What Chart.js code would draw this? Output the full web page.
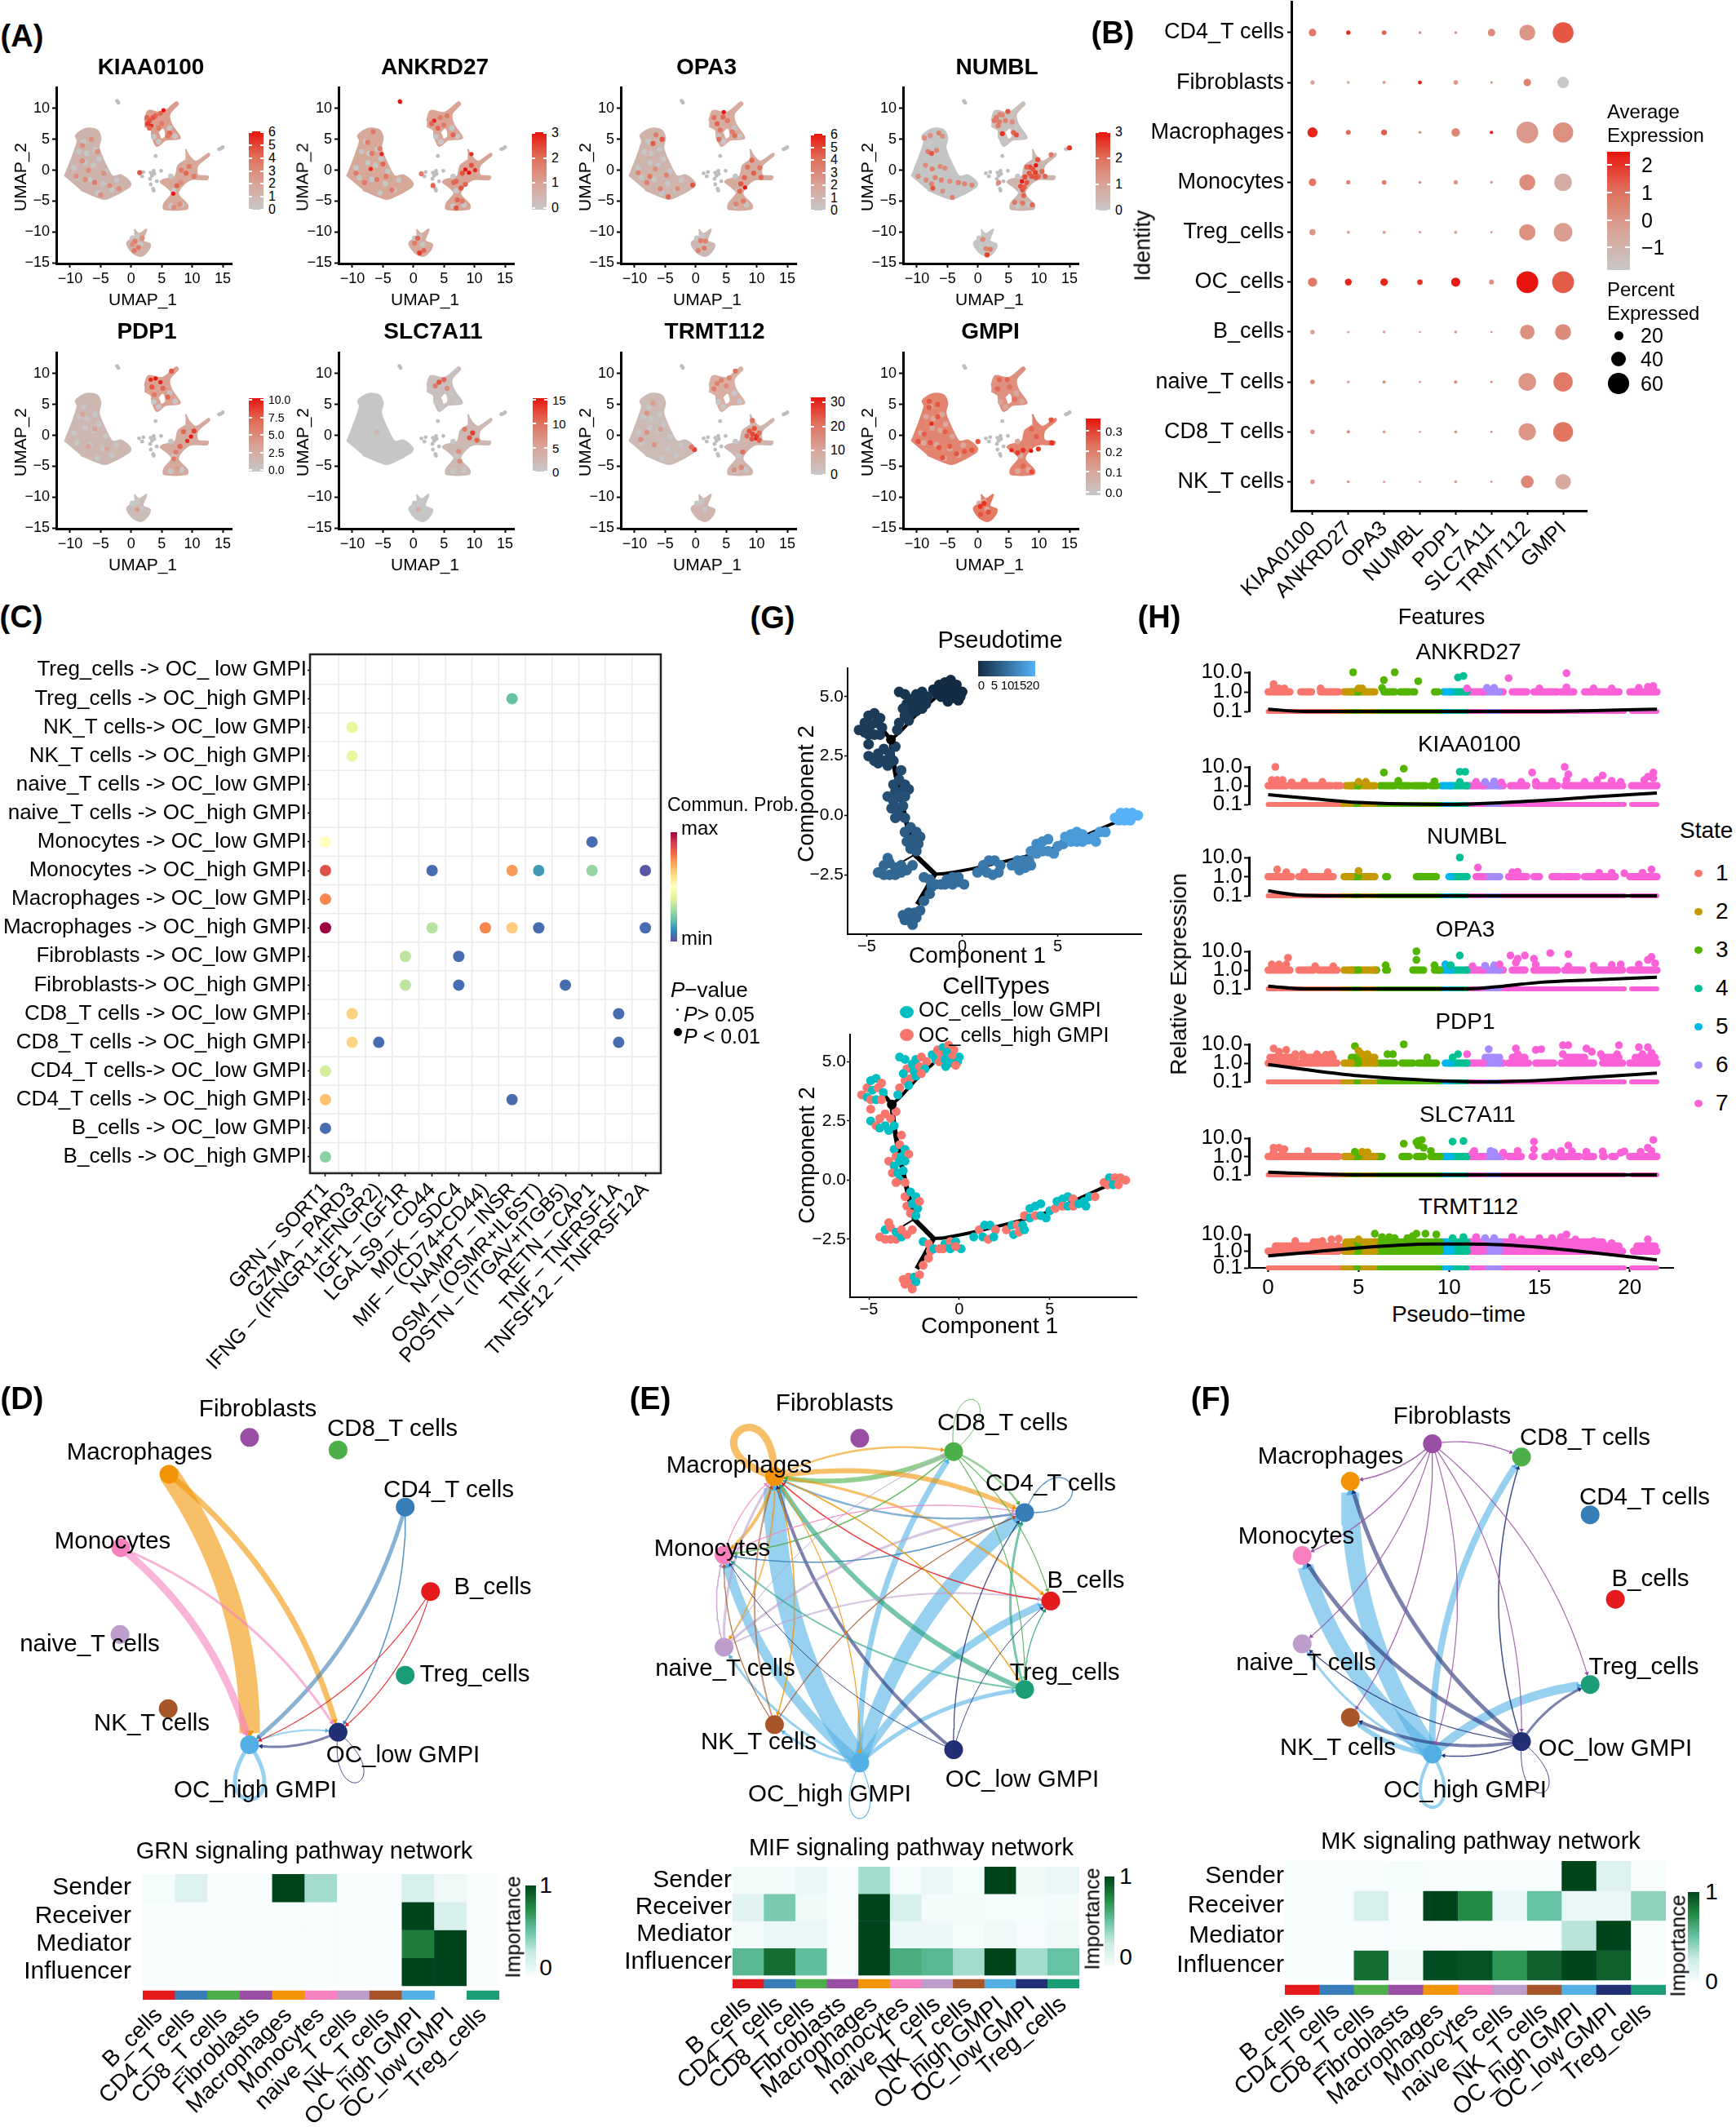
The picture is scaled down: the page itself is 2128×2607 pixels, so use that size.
<!DOCTYPE html>
<html>
<head>
<meta charset="utf-8">
<script src="https://cdn.jsdelivr.net/npm/chart.js@4/dist/chart.umd.js"></script>
<style>
html,body{margin:0;padding:0;background:#fff}
#page{position:relative;width:2128px;height:2607px;overflow:hidden;background:#fff;font-family:"Liberation Sans",Arial,sans-serif;color:#000}
#page canvas{position:absolute}
.t{position:absolute;white-space:pre;line-height:1}
</style>
</head>
<body>
<div id="page"></div>
<script>
// ---------- data : panel A (UMAP) ----------
const umapXTicks=[-10,-5,0,5,10,15];
const umapYTicks=[-15,-10,-5,0,5,10];
const blobBig=[[-10.9,-1],[-10,1.2],[-8.8,4.7],[-9.1,5.6],[-7.4,6.7],[-5.6,6.5],[-5,5.2],[-5.3,3.6],[-3.9,.3],[-3,-1],[-1.6,-.8],[-.1,-2.1],[-.4,-2.8],[-3.6,-4.5],[-4.8,-4.6],[-8.3,-3.2]];
const blobTop=[[2.2,8],[2.8,9.6],[5.1,9.3],[7.4,11],[7.7,10.7],[6.3,9.1],[6.6,7.4],[8,5.2],[5.7,4.9],[4.2,3.9],[3.4,5.6],[3.3,6.5],[2.2,7.1]];
const blobRight=[[8.9,3.4],[9.5,2.3],[10.6,1.4],[12.7,2.7],[12.8,2.4],[10.9,.75],[10.9,-.8],[12.6,-1],[12.4,-1.5],[9.8,-1.5],[8.3,-2.6],[7.7,-3.9],[9.2,-5.6],[9.1,-6.3],[5.4,-6.3],[5.4,-5.4],[6.7,-3.7],[5.7,-2.6],[4.8,-1.9],[5.4,-1.5],[7.2,-1],[7.7,.75],[8.9,1.6]];
const blobLow=[[.5,-9.6],[1.3,-10.3],[2.5,-9.6],[1.9,-11.4],[3.1,-12],[2.5,-13.3],[1.5,-13.9],[.2,-13.3],[-.7,-11.8],[.5,-10.9]];
const blobHole=[[4.6,6],[5.2,6.6],[5.4,5.5],[4.9,5.2]];
const strayCells=[[-2.3,11.2],[-2.1,10.9],[4,2.3],[1.3,-.5],[1.8,-1],[2,-.3],[3.2,-.4],[3.7,-.1],[3.8,-.6],[4.9,-.1],[3.1,-1.4],[3.2,-2.3],[3.6,-3],[3.7,-3.3],[4.2,-1.8],[3.4,-.9],[14.4,3.4],[15,3.7],[14.7,3.5]];
const greyFlecks=[[-8.5,3],[-7.5,1.2],[-9.4,.4],[-6.2,.8],[-5.3,1.8],[-6.8,-1.5],[-4.6,-2.2],[-3.2,-3.2],[-7.8,4.6],[-5.9,3.4],[-4.2,-.2],[-2.4,-1.6],[-8.9,-1.2],[-5.5,-3.7],[-7.3,2.7],[4.5,4.6],[3.7,5.4],[6.3,6.8],[7.2,5.5],[6.5,-1],[7,-3.3],[6.5,-5.8],[8.3,-5.6],[1,-10.7],[1.5,-12],[.2,-11]];
const hotKIAA0100=[[3,8,.7],[2.7,7.5,.8],[3.3,7.2,.9],[4,8.8,.6],[4.8,9.2,.6],[5.3,9.7,1],[3.6,8.5,.7],[5,7.5,.5],[4.5,6.8,.5],[6.3,6,.6],[6,5.5,.5],[3,6.8,.6],[2.6,8.5,.6],[8.2,0,.5],[9.5,.6,.5],[9,-.5,.6],[10.3,-1,.5],[7.5,-2.5,.6],[6.9,-3.8,1],[8.2,-2,.4],[1.4,-.4,.7],[7,-6,.4],[8,-5.5,.4],[-8,4,.4],[-6.5,5,.4],[-5.5,3,.4],[-7,0,.4],[-9,-1,.4],[-6,-2,.5],[-4.5,-.5,.4],[-5,-4,.4],[-2,-3,.4],[-8,1.5,.4],[-3.5,-2.5,.4],[-7.5,-1.5,.4],[.6,-11.5,.5],[1.2,-12.5,.5],[.2,-12,.4],[1.8,-11,.4],[.5,-13,.5]];
const hotANKRD27=[[-2.2,11.1,1],[3.4,8,.9],[3,7.5,.6],[4.4,8.5,.5],[5.5,8.8,.5],[4,6.8,.6],[6.5,5.7,.6],[5,7.3,.5],[-7,.2,.9],[-5.2,2.6,.9],[-7.5,4.5,.5],[-6.6,6.2,.5],[-9.4,-.5,.5],[-5,1,.6],[-6,-1.5,.5],[-3.5,-3.2,.5],[-4.5,-1,.5],[-8,-2,.5],[-5.5,3.5,.5],[-6.8,2.7,.5],[9.5,2.6,.9],[8.5,.1,1],[9.1,-.4,1],[10.1,0,.9],[9.5,.8,.7],[8,-.5,.7],[7,-1.8,.6],[6.6,-2,.6],[8.5,-2.3,.6],[7.8,-2.9,.7],[7.2,-4.8,.6],[7,-6.1,.7],[8,-5,.5],[1.3,-.6,.5],[3.2,-2.5,.6],[.7,-11,.6],[1,-13.4,.8],[1.7,-13,.6],[.2,-11.8,.5]];
const hotOPA3=[[4.6,9.4,1],[8.1,-2.8,1],[3,8.5,.55],[3.5,7.5,.6],[4.5,8.6,.6],[5.2,8,.5],[4,6.5,.5],[6,6.2,.5],[3.8,5,.55],[6.4,5.6,.55],[8.5,.5,.55],[9.5,-.5,.65],[10.5,.4,.55],[9.2,1.6,.6],[8,-1.2,.6],[10.7,-1.2,.6],[7.4,-2.2,.7],[7.2,-3.4,.6],[7.8,-5,.5],[6.6,-5.5,.45],[-6.5,5.7,.5],[-7,4.3,.65],[-5.5,5,.7],[-9.4,-.4,.45],[-6.6,.2,.4],[-4.8,-.8,.45],[-5.8,-3,.45],[-8,-2,.45],[-7.5,-1,.5],[-4.5,-4.3,.6],[-3,-3,.4],[-.5,-2.4,.7],[.8,-11.4,.5],[1.4,-12.6,.5],[.4,-13,.45],[1.6,-11.5,.45]];
const hotNUMBL=[[3,8.5,.5],[3.5,7.8,.5],[4,8.9,.45],[2.7,8,.5],[3.6,9,.45],[3.3,7.2,.5],[4.5,8,.45],[4.9,9.5,.7],[4,5.9,.85],[5.8,6.1,.6],[6.3,5.7,.7],[5.6,7.8,.4],[9.5,.8,1],[7.2,-1.8,1],[8.5,.5,.75],[9.4,-.4,.8],[8.8,-1,.7],[9.8,1.7,.7],[10.5,-.2,.6],[7.7,-1.1,.75],[7,-2.6,.75],[8,-2,.7],[7.3,-3.2,.7],[9,.2,.7],[8,.5,.6],[9.9,-1,.6],[11,-1,.6],[8.4,-.5,.7],[7.6,-2.7,.65],[9.5,-1.2,.7],[12,2.5,.5],[6,-5.2,.5],[7.3,-5.3,.5],[8.9,-5.6,.6],[7.5,-4.1,.6],[15,3.6,.85],[-8.8,5.2,.4],[-7.8,5.6,.4],[-6.4,6,.45],[-5.8,5.5,.4],[-8.2,3,.5],[-7.6,2.7,.7],[-6.8,3.2,.45],[-8.6,.8,.4],[-7.5,.2,.45],[-6.2,.6,.4],[-5.4,.3,.4],[-9.8,-1,.4],[-8.5,-1.6,.4],[-7,-1.2,.45],[-6,-1.6,.45],[-4.6,-1.8,.4],[-3.2,-2,.45],[-2.2,-2.2,.45],[-1,-2.4,.45],[-7.4,-2.9,.7],[-7.6,-2.2,.45],[-5.8,-3.4,.4],[-4.2,-4.4,.45],[3.4,-2,.4],[1.3,-12.7,.45],[2,-12.8,.5],[1.5,-13.7,.8],[.8,-11.2,.4]];
const hotPDP1=[[3.2,9,.9],[4,9.2,1],[4.8,8.6,.9],[3.4,7.8,.7],[5.2,7.6,.6],[3.8,6.6,.5],[6,6.2,.6],[6.6,10.4,.7],[8.6,.6,.6],[9.8,-.2,1],[9.2,-.9,.9],[10.3,.7,.8],[8,-1.8,.6],[7.3,-2.7,.5],[7,-3.8,.5],[7.6,-5.4,.3],[-8,3.4,.25],[-6,1,.25],[-4,-2.2,.25],[-7,-1.8,.25],[1,-12,.3]];
const hotSLC7A11=[[4.2,8.6,.7],[5,9,.6],[5.5,7.6,.4],[3.6,8,.5],[9.7,.4,.8],[9.2,-.4,.7],[10.4,-.8,.6],[8.4,1,.5],[7.4,-2.6,.4],[7.6,-4.2,.4],[-6,.5,.15],[.8,-12,.2]];
const hotTRMT112=[[9.9,-.5,1],[10,-.1,.85],[9.3,.2,.75],[8.8,.7,.7],[9.6,1.1,.7],[9.2,-.6,.7],[8.4,-.1,.6],[10.4,-.8,.65],[9.3,2.4,.55],[10.4,.4,.55],[-.2,-2.3,.8],[-.7,-1.9,.55],[3.5,8.4,.45],[4.2,8.9,.45],[5,8,.4],[3,7.5,.45],[6.5,10.4,.55],[5.5,9.3,.45],[7.7,-2.7,.55],[6.3,-5.6,.4],[7.5,-5.2,.4],[-8,3.6,.35],[-7,5.2,.3],[-9,-.7,.4],[-8,.5,.35],[-6.8,-1.5,.35],[-5.8,1,.3]];
const hotGMPI=[[8.7,-2.5,1],[5.5,-2.4,.95],[-7.6,1.9,.9],[0,-1,.7],[7.4,-2.4,.85],[6.5,-2.8,.8],[9.9,-2.2,.85],[3.5,9,.6],[4.8,9,.6],[5.2,7.8,.55],[3.2,7.5,.6],[6,5.8,.55],[8.8,1,.6],[9.6,-.2,.65],[7.4,-5,.6],[8.8,-5.9,.75],[-8,5.5,.7],[-6.6,5,.7],[-8,4.5,.65],[-6.6,3,.7],[-8.8,.2,.65],[-9.8,-1,.7],[-5.4,.6,.65],[-6.4,-2,.7],[-7.8,-1.2,.7],[-3.5,-3,.7],[-2.2,-2.6,.7],[-4.6,-1.8,.65],[-5.8,-3.6,.7],[-1,-2.4,.7],[1,-11,.85],[1.7,-12.4,.75],[.4,-11.5,.85],[.4,-12.8,.7],[12.1,-1.2,.85],[12,2.5,.7]];
const legendKIAA0100=['6','5','4','3','2','1','0'];
const legendANKRD27=['3','2','1','0'];
const legendOPA3=['6','5','4','3','2','1','0'];
const legendNUMBL=['3','2','1','0'];
const legendPDP1=['10.0','7.5','5.0','2.5','0.0'];
const legendSLC7A11=['15','10','5','0'];
const legendTRMT112=['30','20','10','0'];
const legendGMPI=['0.3','0.2','0.1','0.0'];

// ---------- data : panel B ----------
const dotGenes=['KIAA0100','ANKRD27','OPA3','NUMBL','PDP1','SLC7A11','TRMT112','GMPI'];
const dotIdents=['CD4_T cells','Fibroblasts','Macrophages','Monocytes','Treg_cells','OC_cells','B_cells','naive_T cells','CD8_T cells','NK_T cells'];
const pctExpressed=[[18,8,9,4,4,18,44,59],[8,4,5,7,9,3,18,30],[26,10,13,4,21,5,62,57],[18,8,9,4,8,3,44,49],[14,4,5,3,5,1.5,45,52],[23,16,18,12,23,10,62,62],[9,3,4,1.5,4,1.5,40,44],[9,3,5,1.5,5,1.5,49,54],[9,5,4,1.5,4,1.5,48,56],[9,4,3,1.5,4,1.5,34,43]];
const avgExpression=[[.4,2,.9,0,-.2,0,-.2,1.1],[-.5,-.5,-.4,2.2,-.2,0,.2,-1.5],[2,.7,1,-.1,.1,2.3,-.3,-.1],[.5,.1,.4,-.1,-.2,0,0,-.8],[-.3,-.4,-.5,-.4,-.5,.1,-.1,-.4],[.4,2,2,1.8,2.2,-.1,2.3,1],[-.5,-.5,-.5,-.4,-.2,0,-.1,0],[.1,-.3,-.1,-.2,0,.4,-.2,.4],[-.2,0,-.3,-.3,-.1,.1,-.2,.5],[-.3,-.2,-.5,-.4,-.3,.2,.1,-.7]];

// ---------- data : panel C ----------
const pairRows=['Treg_cells -> OC_ low GMPI','Treg_cells -> OC_high GMPI','NK_T cells-> OC_low GMPI','NK_T cells -> OC_high GMPI','naive_T cells -> OC_low GMPI','naive_T cells -> OC_high GMPI','Monocytes -> OC_low GMPI','Monocytes -> OC_high GMPI','Macrophages -> OC_low GMPI','Macrophages -> OC_high GMPI','Fibroblasts -> OC_low GMPI','Fibroblasts-> OC_high GMPI','CD8_T cells -> OC_low GMPI','CD8_T cells -> OC_high GMPI','CD4_T cells-> OC_low GMPI','CD4_T cells -> OC_high GMPI','B_cells -> OC_low GMPI','B_cells -> OC_high GMPI'];
const lrPairs=['GRN \u2013 SORT1','GZMA \u2013 PARD3','IFNG \u2013 (IFNGR1+IFNGR2)','IGF1 \u2013 IGF1R','LGALS9 \u2013 CD44','MDK \u2013 SDC4','MIF \u2013 (CD74+CD44)','NAMPT \u2013 INSR','OSM \u2013 (OSMR+IL6ST)','POSTN \u2013 (ITGAV+ITGB5)','RETN \u2013 CAP1','TNF \u2013 TNFRSF1A','TNFSF12 \u2013 TNFRSF12A'];
// row, column, communication probability (0 min .. 1 max)
const commProb=[[1,7,.2],[2,1,.42],[3,1,.42],[6,0,.5],[6,10,.05],[7,0,.86],[7,4,.05],[7,7,.73],[7,8,.13],[7,10,.27],[7,12,.01],[8,0,.76],[9,0,1],[9,4,.32],[9,6,.76],[9,7,.64],[9,8,.05],[9,12,.05],[10,3,.33],[10,5,.05],[11,3,.33],[11,5,.05],[11,9,.05],[12,1,.63],[12,11,.05],[13,1,.62],[13,2,.05],[13,11,.05],[14,0,.37],[15,0,.66],[15,7,.05],[16,0,.05],[17,0,.25]];
const spectralStops=['#5E4FA2','#3288BD','#66C2A5','#ABDDA4','#E6F598','#FFFFBF','#FEE08B','#FDAE61','#F46D43','#D53E4F','#9E0142'];

// ---------- data : panels D E F ----------
const cellNames=['B_cells','CD4_T cells','CD8_T cells','Fibroblasts','Macrophages','Monocytes','naive_T cells','NK_T cells','OC_high GMPI','OC_low GMPI','Treg_cells'];
const cellColors=['#E41A1C','#377EB8','#4DAF4A','#984EA3','#F29403','#F781BF','#BC9DCC','#A65628','#54B0E4','#222F75','#1B9E77'];
const B=0,CD4=1,CD8=2,FIB=3,MAC=4,MON=5,NAI=6,NK=7,HI=8,LO=9,TRE=10;
const nodeXD=[533,501,416,304,202,141,140,201,304,416,501];
const nodeYD=[1950,1842,1769,1753,1800,1894,2005,2100,2146,2130,2057];
const labelXD=[604,550,481,316,171,138,110,186,313,494,582];
const labelYD=[1944,1825,1750,1726,1779,1888,2014,2111,2193,2150,2051];
const edgesD=[[MAC,HI,25],[MAC,LO,7],[MON,HI,9],[MON,LO,3],[CD4,HI,5],[CD4,LO,1.5],[B,HI,1.2],[B,LO,1.2],[LO,HI,3],[HI,LO,2]];
const loopsD=[[HI,304,2216,18,5],[LO,441,2194,14,1]];
const nodeXE=[1295,1262,1172,1053,945,881,881,945,1053,1172,1262];
const nodeYE=[1962,1849,1771,1754,1803,1903,2021,2120,2169,2152,2075];
const labelXE=[1331,1288,1229,1023,906,873,889,930,1017,1253,1305];
const labelYE=[1936,1817,1743,1719,1795,1897,2044,2134,2198,2180,2049];
const edgesE=[[HI,MAC,26],[HI,MON,12],[HI,CD4,18],[HI,CD8,7],[HI,B,9],[HI,TRE,5],[HI,NAI,3],[HI,NK,3],[MAC,CD8,2.5],[MAC,CD4,6],[MAC,B,3],[MAC,TRE,1.5],[MAC,MON,4],[MAC,NAI,2],[MAC,NK,1.5],[MAC,HI,1.2],[CD8,MAC,6],[CD8,CD4,2.5],[CD8,B,1.2],[CD8,TRE,1.2],[CD8,MON,1.5],[CD4,MAC,2.5],[CD4,MON,1.5],[TRE,MAC,6],[TRE,MON,2],[TRE,CD4,3],[TRE,B,1.2],[MON,MAC,1.2],[MON,CD4,1.2],[NAI,CD4,3],[NAI,B,2],[NAI,MAC,3],[NAI,MON,1.5],[NAI,CD8,1],[NK,CD4,1.2],[NK,MAC,2],[NK,MON,1.2],[LO,MAC,4],[LO,MON,1],[LO,CD4,1.3],[LO,B,1],[B,MAC,1.5]];
const loopsE=[[MAC,901,1744,20,9],[CD8,1198,1705,14,1],[CD4,1320,1812,18,1.3],[HI,1053,2240,13,1.2]];
const nodeXF=[1987,1955,1868,1755,1651,1590,1590,1651,1755,1868,1955];
const nodeYF=[1960,1852,1778,1761,1809,1904,2017,2111,2158,2142,2069];
const labelXF=[2023,2016,1943,1780,1631,1589,1601,1640,1796,1980,2015];
const labelYF=[1934,1834,1761,1735,1784,1882,2037,2141,2193,2142,2042];
const edgesF=[[HI,MAC,22],[HI,MON,20],[HI,CD8,8],[HI,TRE,11],[HI,NK,6],[HI,NAI,3],[LO,MAC,5],[LO,MON,5],[LO,CD8,1.5],[LO,NAI,1.2],[LO,NK,4],[LO,HI,1.5],[LO,TRE,3],[FIB,MAC,1.5],[FIB,MON,1.3],[FIB,NAI,1.2],[FIB,NK,1.3],[FIB,HI,1.2],[FIB,LO,1.2],[FIB,TRE,1.2],[FIB,CD8,1.3]];
const loopsF=[[HI,1755,2226,15,4],[LO,1896,2207,14,1]];

// heatmaps below the networks
const heatRoles=['Sender','Receiver','Mediator','Influencer'];
const grnImportance=[[.02,.15,0,0,1,.35,0,0,.18,.06,0],[0,0,0,0,0,0,0,0,1,.18,0],[0,0,0,0,0,0,0,0,.8,1,0],[0,0,0,0,0,0,0,0,1,1,0]];
const mifImportance=[[.03,.03,.08,0,.35,.02,.08,.02,1,.05,.08],[.12,.45,.05,0,1,.18,.03,.03,.02,.02,.03],[.03,.08,.07,0,1,.07,.07,.02,.06,.01,.06],[.55,.85,.52,0,1,.6,.55,.35,1,.35,.5]];
const mkImportance=[[0,0,0,.02,0,0,0,0,1,.15,0],[0,0,.2,0,1,.75,.08,.5,.08,.08,.4],[0,0,0,0,0,0,0,0,.3,1,0],[0,0,.85,.05,.97,.95,.7,.9,1,.9,0]];
const bugnStops=['#F7FCFD','#CCECE6','#66C2A4','#238B45','#00441B'];

// ---------- data : panel G ----------
// each cell is [component 1, component 2, kind] kind 0 = low GMPI, 1 = high GMPI
const cellsA=[[-1.5,5.3,0],[-1.2,5.5,1],[-.9,5.6,0],[-.6,5.7,1],[-.3,5.5,1],[0,5.2,0],[-1.3,5.1,0],[-1,5.3,1],[-.7,5.4,0],[-.4,5.2,1],[-.1,5,0],[-1.1,5,1],[-.8,5.1,0],[-.5,4.95,0],[-.2,4.85,1],[-.75,4.8,0]];
const cellsB=[[-2.9,4.7,1],[-2.6,4.9,0],[-2.4,5.1,0],[-2.1,5.2,1],[-1.8,5,1],[-2.5,4.6,0],[-2.2,4.8,1],[-1.9,4.7,0],[-2.7,4.3,1],[-2.4,4.4,0],[-2.1,4.5,1],[-3,5.1,0],[-3.3,5.2,0]];
const cellsC=[[-3.3,3.9,1],[-3,4.2,1],[-2.8,4,0],[-3.1,4.5,0],[-3.4,3.6,0]];
const cellsD=[[-5.4,3.6,1],[-5.1,3.9,1],[-4.9,4.2,0],[-4.6,4.3,0],[-4.3,4.1,1],[-5.1,3.5,0],[-4.8,3.8,0],[-4.5,3.9,1],[-4.2,3.7,0],[-4.9,3.4,1],[-4.6,3.4,0],[-4.9,3,1],[-4.3,3.4,1]];
const cellsE=[[-4.9,2.5,0],[-4.6,2.3,1],[-4.4,2.6,1],[-4.1,2.8,1],[-4.1,2.3,0],[-3.8,2.6,1],[-3.6,2.3,0],[-3.5,2.9,1],[-4.4,2.2,0],[-3.9,2.1,0]];
const cellsF=[[-3.2,1.9,1],[-3.6,1.3,0],[-3.3,1.5,1],[-3,1.3,0],[-3.5,1,1],[-3.2,1,0],[-2.8,1.1,1]];
const cellsG=[[-3.9,.8,1],[-3.6,.6,0],[-3.3,.8,0],[-3,.8,0],[-3.7,.3,1],[-3.4,.3,0],[-3.1,.4,0],[-3.3,0,0],[-3,-.1,1],[-3.5,-.1,1]];
const cellsH=[[-3,-.7,1],[-2.7,-.5,0],[-2.4,-.7,0],[-2.9,-1.1,1],[-2.6,-1,0],[-2.3,-1.2,0],[-2.7,-1.4,1],[-2.4,-1.5,0],[-2.2,-.9,1]];
const cellsI=[[-4.4,-2.4,1],[-4.1,-2.5,1],[-3.8,-2.5,1],[-3.5,-2.5,1],[-3.2,-2.4,0],[-2.9,-2.3,1],[-2.6,-2.1,1],[-4.1,-2.1,0],[-3.8,-2,1],[-3.5,-2.2,0],[-3.2,-2.1,1],[-3.9,-1.8,1]];
const cellsJ=[[-3.1,-4.2,1],[-2.8,-4.1,1],[-2.5,-4.1,0],[-2.2,-4,1],[-3,-4.4,1],[-2.7,-4.4,1],[-2.4,-4.3,0],[-2.6,-4.6,1],[-2,-3.6,1],[-1.7,-3.3,1],[-1.6,-3,1]];
const cellsK=[[-2,-2.6,0],[-1.7,-2.7,1],[-1.4,-2.9,0]];
const cellsL=[[-1.1,-2.9,1],[-.8,-2.7,0],[-.5,-2.6,1],[-.2,-2.6,0],[.1,-2.9,0],[-.9,-2.9,1],[-.5,-2.9,0],[-.2,-2.8,1]];
const cellsM=[[.8,-2.4,0],[1.1,-2.1,1],[1.4,-1.9,0],[1.7,-1.9,0],[2,-2.1,1],[1.3,-2.4,0],[1.6,-2.5,1],[1.9,-2.4,0]];
const cellsN=[[2.6,-2.1,1],[2.9,-1.9,0],[3.2,-1.9,1],[3.5,-1.9,0],[3,-2.3,0],[3.3,-2.2,1],[3.6,-2.1,0]];
const cellsO=[[3.6,-1.5,1],[3.9,-1.2,0],[4.2,-1.1,0],[4.5,-1,0],[3.9,-1.6,0],[4.2,-1.5,1],[4.5,-1.5,0],[4.8,-1.6,0],[5,-1.3,0],[5.3,-1.2,1]];
const cellsP=[[5.4,-.9,0],[5.7,-.8,0],[6,-.7,0],[6.3,-.8,1],[5.7,-1.1,1],[6,-1.1,0],[6.3,-1.1,1],[6.6,-1,0],[6.9,-.9,0],[7.2,-.7,0],[7.5,-.7,1],[7,-1.1,0]];
const cellsQ=[[8,-.1,1],[8.3,.1,0],[8.6,.1,1],[8.9,.1,1],[9.2,0,1],[8.2,-.2,1],[8.5,-.2,0],[8.8,-.2,1]];
const cellGroups=[cellsA,cellsB,cellsC,cellsD,cellsE,cellsF,cellsG,cellsH,cellsI,cellsJ,cellsK,cellsL,cellsM,cellsN,cellsO,cellsP,cellsQ];
const groupTimes=[0,1.5,2.5,2.5,3.5,5,6,7.5,9.5,9,10,10.5,12,13,15,17.5,21];
// tree branches, [component 1, component 2] with a line width in the last array
const branchTrunk=[[-3.73,3.19],[-3.6,2.26],[-3.13,.41],[-2.49,-1.65]];
const branchLeft=[[-3.73,3.19],[-4.27,3.71]];
const branchUp=[[-3.73,3.19],[-3.28,3.5],[-2.28,4.33],[-1.42,4.94]];
const branchSide=[[-2.49,-1.65],[-3.28,-2.02]];
const branchJoin=[[-2.49,-1.65],[-1.42,-2.47]];
const branchDown=[[-1.42,-2.47],[-2.35,-3.75]];
const branchRight=[[-1.42,-2.47],[-.85,-2.44],[1,-2.16],[4.56,-1.44],[7.98,-.31],[8.8,-.04]];
const branchList=[branchTrunk,branchLeft,branchUp,branchSide,branchJoin,branchDown,branchRight];
const branchWidths=[6,5,4,2,6,6,4];

// ---------- data : panel H ----------
const stateColors=['#F8766D','#C49A00','#53B400','#00C094','#00B6EB','#A58AFF','#FB61D7'];
// start, end, state
const stateRanges=[[0,4,0],[4,4.6,1],[4.6,5,2],[5,5.9,1],[5.9,9.5,2],[9.5,10.1,4],[10.1,11,3],[11,11.9,6],[11.9,12.8,5],[12.8,22,6]];
const baseBands=[[0,3.9],[4,19.7],[20.1,21.5]];
const rowsANKRD27=[[1,[[0,1.2],[1.8,2.4],[2.9,3.9],[4.2,5.9],[6.4,7],[7.3,7.8],[8,8.1],[9.2,9.4],[9.7,13],[13.5,14.3],[14.7,16],[16.2,16.9],[17.5,18],[18.2,19.4],[20,21.5]]]];
const dotsANKRD27=[[.3,2.5],[.3,1.6],[.6,1.5],[.9,1.5],[2.9,1.5],[4.7,10],[5,1.5],[5.2,1.5],[6.3,1.6],[6.4,4],[7,10],[8.3,3.5],[10.5,5.5],[10.8,6.5],[13.3,5],[11,1.5],[12.1,1.6],[12.5,1.6],[15,1.5],[16.5,9],[16.5,1.7],[18,1.5],[19,1.5],[20.5,1.6],[21,1.8],[21.3,2]];
const curveANKRD27=[[0,.13],[2,.1],[10,.1],[15,.1],[18,.11],[21.5,.13]];
const rowsKIAA0100=[[1,[[0,1],[1.3,3.5],[3.7,4],[4.3,5.9],[6.2,7],[7.3,7.8],[8,8.7],[9,9.3],[9.6,13],[13.4,14.3],[14.8,16],[16.4,19.6],[20.1,21.5]]]];
const dotsKIAA0100=[[.4,10],[.2,2],[.5,2],[.8,2],[.3,1.5],[1.3,1.5],[2,1.6],[3,1.6],[5,1.6],[5.4,1.6],[6.4,5],[7.5,8],[7.2,1.8],[9.2,1.7],[10.6,5.5],[10.9,5.5],[10.6,1.6],[11.5,1.6],[12,1.6],[12.5,1.7],[12.9,1.5],[14,1.6],[14.6,5],[14.8,1.6],[15.7,1.7],[16.4,10],[16.6,4],[16.5,2],[17.5,1.6],[18.2,2],[19,1.8],[18.5,3.5],[19.5,1.6],[20.8,2],[21,3],[21.3,5],[21.3,2.5]];
const curveKIAA0100=[[0,.33],[2.5,.2],[5,.127],[10,.1],[15,.16],[18,.25],[21.5,.41]];
const rowsNUMBL=[[1,[[0,1.3],[1.7,3.6],[4.2,5.9],[6.5,6.6],[8.2,9.3],[10,11],[11.5,12.8],[13.3,14.3],[14.7,15],[15.7,16.2],[16.4,17.1],[17.5,19.2],[20,21.5]]]];
const dotsNUMBL=[[.5,2.4],[1,1.7],[2,1.7],[3.3,1.7],[5,2],[10.6,10],[11.6,3],[13.5,1.7],[13.8,1.8],[18.3,1.6],[19,1.6],[19.7,1.5],[20.7,1.6],[21.2,2.4]];
const curveNUMBL=[[0,.18],[2,.105],[5,.1],[21.5,.1]];
const rowsOPA3=[[1,[[0,1.2],[1.7,2.5],[2.8,3.8],[4.2,6],[6.5,6.6],[8,8.6],[9.2,13],[13.5,14.2],[14.7,16],[16.4,17.4],[18,19.6],[20,21.5]]]];
const dotsOPA3=[[.2,2],[.6,2],[1,2],[1.1,4.5],[.4,1.5],[.8,1.5],[2.6,1.6],[3.6,1.6],[6.5,1.8],[8.2,10],[8.2,3.5],[9.2,1.8],[9.8,2],[10.1,1.8],[10.6,6],[11.3,1.6],[12,1.7],[12.5,1.8],[12.8,2],[13.4,6],[13.8,4],[14.2,6],[13.7,2.5],[14.7,4],[15.6,8],[14.8,2],[16.6,7],[16.6,1.6],[18,1.7],[19,1.9],[19.5,2],[20.5,2],[21,3.5],[21.2,5],[21.4,2.3]];
const curveOPA3=[[0,.14],[2,.1],[11,.1],[13,.14],[15,.22],[18,.3],[21.5,.42]];
const rowsPDP1=[[1,[[0,1.5],[1.7,3.8],[4.2,6],[6.2,7],[7.4,8],[8.3,9.3],[9.8,13],[13.3,14.4],[14.8,15.8],[16.2,18],[18.5,19.6],[20,21.5]]],[2,[[.1,1.5],[1.9,3.6],[4.6,5.9],[12,12.8],[13.5,14.2],[16.5,17.5],[18.5,19.4],[20.3,21.4]]]];
const dotsPDP1=[[.3,6],[.6,4],[1,5],[1.5,3],[1.9,3],[2.7,3],[3.2,2.8],[3.5,3],[4.8,8],[5,4.5],[5.2,3],[5.5,3],[6.6,3],[6.9,3],[7.5,10],[8.8,2],[10.2,2],[10.5,3],[11,3],[12.2,5.5],[13.7,6],[13.8,3],[14.8,5],[15.1,5.5],[16.3,9],[16.6,9],[16.3,3],[17.6,6],[17.9,4],[18.4,3],[19.4,9],[19.3,3],[20.5,7],[21,7],[21.2,3.5],[20.7,3]];
const curvePDP1=[[0,.84],[2,.46],[5,.21],[9,.12],[12,.1],[15,.12],[18,.18],[21.5,.29]];
const rowsSLC7A11=[[1,[[0,1.8],[1.9,3.9],[4.2,6],[6.1,6.3],[7.4,7.8],[8.2,8.6],[9,13],[13.3,14],[14.6,14.7],[15.3,15.6],[16,17.2],[17.5,18],[18.5,18.6],[19,19.2],[20,21.5]]]];
const dotsSLC7A11=[[.3,3],[.6,3],[.9,2.5],[.3,1.7],[.8,1.7],[2.2,2],[4.8,1.8],[5.2,1.8],[5.5,1.7],[7.5,5],[8.2,6],[8.3,7],[8.5,8],[8.3,4],[8.6,3],[9,2],[10.2,6.5],[10.8,7],[11.4,2],[11.3,1.5],[12.3,2],[12.5,1.7],[13,1.6],[13.8,2],[14.7,6.5],[14.7,2.5],[15.7,1.6],[16.6,4],[16.8,1.9],[16.2,2],[17.6,1.8],[18.5,1.9],[19.5,1.6],[19.7,1.9],[21.3,8],[21,3],[21.2,2],[20.6,1.8]];
const curveSLC7A11=[[0,.14],[5,.1],[21.5,.1]];
const rowsTRMT112=[[1,[[0,3.9],[4.2,19.6],[20.2,21.5]]],[2,[[.4,3.9],[4.2,19.4],[20.4,21.4]]],[3.5,[[2.5,3],[4.3,18.5]]]];
const dotsTRMT112=[[1.5,4],[3,4],[3.5,5],[3.9,5.5],[5,5],[5.9,11],[6.3,7],[6.7,7],[7,6],[7.7,6],[8,8],[8.2,11],[8.7,11],[9.3,10],[10.2,6],[10.8,7],[11.5,7],[12,6],[12.5,6],[13.5,7],[14,5],[15,6],[15.7,6],[16.2,7],[16.5,10],[17,5],[18,4],[19,3],[21,5]];
const curveTRMT112=[[0,.52],[2.5,.9],[5,1.58],[7,2.2],[9,2.7],[11,2.7],[13,2.4],[15,1.7],[18,.8],[21.5,.3]];
const timeTicks=[0,5,10,15,20];

// ---------- helpers ----------
Chart.defaults.font.family='"Liberation Sans",Arial,sans-serif';
Chart.defaults.color='#000';
Chart.defaults.animation=false;
Chart.defaults.responsive=false;
Chart.defaults.plugins.legend.display=false;
Chart.defaults.plugins.tooltip.enabled=false;

const page=document.getElementById('page');

function txt(s,x,y,size,o={}){
  const d=document.createElement('div');
  d.className='t';
  if(o.html) d.innerHTML=s; else d.textContent=s;
  d.style.left=x+'px';
  d.style.top=y+'px';
  d.style.fontSize=size+'px';
  if(o.bold) d.style.fontWeight='bold';
  if(o.color) d.style.color=o.color;
  const tx=o.align==='l'?'0':(o.align==='r'?'-100%':'-50%');
  let tr='translate('+tx+',-50%)';
  if(o.rot) tr+=' rotate('+o.rot+'deg)';
  if(o.sx) tr+=' scaleX('+o.sx+')';
  d.style.transform=tr;
  d.style.zIndex=5;
  page.appendChild(d);
  return d;
}
function box(x,y,w,h,bg,radius){
  const d=document.createElement('div');
  d.style.cssText='position:absolute;left:'+x+'px;top:'+y+'px;width:'+w+'px;height:'+h+'px;background:'+bg+(radius?';border-radius:50%':'');
  page.appendChild(d);
}
function hexRgb(h){return [parseInt(h.slice(1,3),16),parseInt(h.slice(3,5),16),parseInt(h.slice(5,7),16)];}
function ramp(stops,t){
  t=Math.max(0,Math.min(1,t));
  const p=t*(stops.length-1),i=Math.min(Math.floor(p),stops.length-2),f=p-i;
  const a=hexRgb(stops[i]),b=hexRgb(stops[i+1]);
  return 'rgb('+a.map((v,k)=>Math.round(v+(b[k]-v)*f)).join(',')+')';
}
function rgba(h,a){return 'rgba('+hexRgb(h).join(',')+','+a+')';}
const redStops=['#C8C8C8','#D9A498','#E07A66','#E64A36','#E8150E'];

// canvas whose plot area lands on the given page rectangle
// m.t has to stay above half a tick label plus the tick padding or chart.js pushes the plot down
function plotCanvas(l,t,r,b,m){
  const c=document.createElement('canvas');
  c.width=r-l+m.l+m.r;
  c.height=b-t+m.t+m.b;
  c.style.left=(l-m.l)+'px';
  c.style.top=(t-m.t)+'px';
  page.appendChild(c);
  return c;
}
const minus=s=>String(s).replace('-','\u2212');
function axis(type,min,max,values,labels,margin,horizontal,o={}){
  return {
    type:type,min:min,max:max,reverse:!!o.reverse,display:o.display!==false,
    afterBuildTicks:s=>{s.ticks=values.map(v=>({value:v}));},
    afterFit:s=>{if(horizontal)s.height=margin;else s.width=margin;},
    ticks:{autoSkip:false,font:{size:o.size||18},color:'#000',padding:o.pad==null?4:o.pad,
      minRotation:o.rot||0,maxRotation:o.rot||0,includeBounds:false,
      callback:(v,i)=>labels[i]},
    grid:{display:o.grid!==false,drawOnChartArea:false,drawTicks:o.grid!==false,tickLength:o.tick==null?5:o.tick,tickWidth:o.tickW||2,tickColor:'#000'},
    border:{display:o.border!==false,color:'#000',width:o.bw||3}
  };
}
function colorBar(x0,y0,x1,y1,stops,labels,labelX,size,dir){
  const g=stops.slice().join(',');
  box(x0,y0,x1-x0,y1-y0,'linear-gradient(to '+(dir||'top')+','+g+')');
  labels.forEach(L=>{
    if(L[2]===false) return;
    box(x0,L[1]-1,(x1-x0)*.22,2,'#fff');
    box(x1-(x1-x0)*.22,L[1]-1,(x1-x0)*.22,2,'#fff');
  });
  labels.forEach(L=>txt(L[0],labelX,L[1],size,{align:'l'}));
}
function spread(list,y0,y1){return list.map((s,i)=>[s,y0+(y1-y0)*i/(list.length-1)]);}

// ---------- panel A ----------
function umap(left,top,hot,blobFill,title,titleX,titleY,leg,legX,legY0,legY1,legTop,legBottom,labelSize){
  const m={l:62,t:16,r:14,b:38};
  const c=plotCanvas(left,top,left+215,top+216,m);
  const poly=(pts,col,ord)=>({data:pts.map(p=>({x:p[0],y:p[1]})),showLine:true,fill:'shape',tension:.3,backgroundColor:col,borderColor:col,borderWidth:2,pointRadius:0,order:ord||4});
  const fleckColor=title==='GMPI'?'#D9A79B':'#C6C6C6';
  new Chart(c,{type:'scatter',data:{datasets:[
    {data:hot.map(p=>({x:p[0],y:p[1]})),pointRadius:hot.map(p=>p[2]>.85?2.6:3.1),pointBackgroundColor:hot.map(p=>ramp(redStops,p[2])),pointBorderWidth:0,order:0},
    poly(blobHole,'#FFFFFF',1),
    {data:greyFlecks.map(p=>({x:p[0],y:p[1]})),pointRadius:3.4,pointBackgroundColor:fleckColor,pointBorderWidth:0,order:2},
    {data:strayCells.map(p=>({x:p[0],y:p[1]})),pointRadius:2.4,pointBackgroundColor:'#BDBDBD',pointBorderWidth:0,order:2},
    poly(blobBig,blobFill[0]),poly(blobTop,blobFill[1]),poly(blobRight,blobFill[2]),poly(blobLow,blobFill[3])
  ]},options:{layout:{padding:{top:m.t,right:m.r}},scales:{
    x:axis('linear',-12.27,16.47,umapXTicks,umapXTicks.map(minus),m.b,true,{size:18,pad:3}),
    y:axis('linear',-15.1,13.4,umapYTicks,umapYTicks.map(minus),m.l,false,{size:18,pad:3})
  }}});
  txt(title,titleX,titleY,28,{bold:true});
  txt('UMAP_1',left+106,top+259,21);
  txt('UMAP_2',left-45,top+110,21,{rot:-90});
  colorBar(legX,legTop,legX+18,legBottom,['#C8C8C8','#D9A498','#E0705C','#E8150E'],spread(leg,legY0,legY1),legX+24,labelSize);
}
umap(69,107,hotKIAA0100,['#CDB3AC','#DB9E8E','#D6A99B','#D0B0A7'],'KIAA0100',185,82,legendKIAA0100,305,162,257,161,257,16);
umap(415,107,hotANKRD27,['#D6A899','#DAA595','#D8A496','#D5AB9E'],'ANKRD27',533,82,legendANKRD27,652,163,255,162,257,16);
umap(761,107,hotOPA3,['#CFB4AB','#D7AB9E','#D4AB9F','#CCB9B3'],'OPA3',866,82,legendOPA3,994,165,258,164,258,16);
umap(1107,107,hotNUMBL,['#C5C4C4','#C9BFBC','#CCB5AE','#C6C5C5'],'NUMBL',1222,82,legendNUMBL,1343,162,258,162,258,16);
umap(69,432,hotPDP1,['#CDB8B1','#DBA192','#D5AA9E','#CBBDB8'],'PDP1',180,406,legendPDP1,305,490,576,488,578,14);
umap(415,432,hotSLC7A11,['#C6C6C6','#C9BFBC','#CCB9B3','#C6C6C6'],'SLC7A11',531,406,legendSLC7A11,653,490,578,488,578,15);
umap(761,432,hotTRMT112,['#CCBAB4','#D8AFA2','#CFB5AD','#CFB5AD'],'TRMT112',876,406,legendTRMT112,994,493,582,487,582,16);
umap(1107,432,hotGMPI,['#E28570','#E09080','#E28470','#E37A64'],'GMPI',1214,406,legendGMPI,1331,528,603,513,607,15);

// ---------- panel B ----------
(function(){
  const pts=[],rad=[],col=[];
  dotIdents.forEach((id,r)=>dotGenes.forEach((g,c_)=>{
    pts.push({x:c_,y:r});
    rad.push(1+.2*pctExpressed[r][c_]);
    col.push(ramp(redStops,(avgExpression[r][c_]+1.5)/3.8));
  }));
  const m={l:200,t:22,r:30,b:130};
  const c=plotCanvas(1583,2,1945,626,m);
  new Chart(c,{type:'scatter',data:{datasets:[{data:pts,pointRadius:rad,pointBackgroundColor:col,pointBorderWidth:0,clip:false}]},
    options:{layout:{padding:{top:m.t,right:m.r}},scales:{
      x:axis('linear',-.59,7.66,dotGenes.map((g,i)=>i),dotGenes,m.b,true,{size:26,rot:45,pad:2}),
      y:axis('linear',-.62,9.58,dotIdents.map((g,i)=>i),dotIdents,m.l,false,{size:27,reverse:true,pad:4})
    }}});
  txt('Identity',1401,301,27,{rot:-90});
  txt('Features',1767,756,27);
  txt('Average',1970,137,24,{align:'l'});
  txt('Expression',1970,166,24,{align:'l'});
  colorBar(1970,186,1998,331,['#C8C8C8','#D9A498','#E0705C','#E8150E'],[['2',202],['1',236],['0',270],['\u22121',303]],2012,25);
  txt('Percent',1970,355,24,{align:'l'});
  txt('Expressed',1970,384,24,{align:'l'});
  [[411,5.5,'20'],[440,9.2,'40'],[470,12.9,'60']].forEach(L=>{
    box(1984-L[1],L[0]-L[1],L[1]*2,L[1]*2,'#000',true);
    txt(L[2],2025,L[0],25);
  });
})();

// ---------- panel C ----------
(function(){
  const gridLines={id:'gridLines',beforeDatasetsDraw(ch){
    const g=ch.ctx,a=ch.chartArea,sx=ch.scales.x,sy=ch.scales.y;
    g.save();g.strokeStyle='#EAEAEA';g.lineWidth=1.5;g.beginPath();
    lrPairs.forEach((p,i)=>{const x=sx.getPixelForValue(i+.5);g.moveTo(x,a.top);g.lineTo(x,a.bottom);});
    pairRows.forEach((p,i)=>{const y=sy.getPixelForValue(i+.5);g.moveTo(a.left,y);g.lineTo(a.right,y);});
    g.stroke();
    g.strokeStyle='#222';g.lineWidth=2.5;g.strokeRect(a.left,a.top,a.right-a.left,a.bottom-a.top);
    g.restore();
  }};
  const m={l:380,t:18,r:30,b:280};
  const c=plotCanvas(380,802,810,1438,m);
  new Chart(c,{type:'scatter',data:{datasets:[{
    data:commProb.map(d=>({x:d[1],y:d[0]})),pointRadius:7,pointBorderWidth:0,
    pointBackgroundColor:commProb.map(d=>ramp(spectralStops,d[2]))}]},
    plugins:[gridLines],
    options:{layout:{padding:{top:m.t,right:m.r}},scales:{
      x:axis('linear',-.58,12.58,lrPairs.map((g,i)=>i),lrPairs,m.b,true,{size:25,rot:47,pad:2,tick:4,border:false,tickW:1.5}),
      y:axis('linear',-.55,17.57,pairRows.map((g,i)=>i),pairRows,m.l,false,{size:26,reverse:true,pad:1,tick:3,border:false,tickW:1.5})
    }}});
  txt('Commun. Prob.',818,986,23,{align:'l'});
  txt('max',835,1015,24,{align:'l'});
  txt('min',835,1150,24,{align:'l'});
  box(822,1020,8,134,'linear-gradient(to top,'+spectralStops.join(',')+')');
  txt('<i>P</i>\u2212value',822,1213,26,{align:'l',html:true});
  box(829,1236,3,3,'#000',true);
  box(826,1260,10,10,'#000',true);
  txt('<i>P</i>&gt; 0.05',838,1243,25,{align:'l',html:true});
  txt('<i>P</i> &lt; 0.01',838,1270,25,{align:'l',html:true});
})();

// ---------- panels D E F ----------
function network(l,t,r,b,nx,ny,lx,ly,edges,loops){
  const c=plotCanvas(l,t,r,b,{l:0,t:0,r:0,b:0});
  const ds=[];
  ds.push({data:nx.map((x,i)=>({x:x,y:ny[i]})),pointRadius:11.5,pointBackgroundColor:cellColors,pointBorderWidth:0,clip:false});
  const arrows=[],arrowRot=[],arrowCol=[],arrowRad=[];
  const lines=[];
  edges.forEach(e=>{
    const x0=nx[e[0]],y0=ny[e[0]],x1=nx[e[1]],y1=ny[e[1]];
    const mx=(x0+x1)/2,my=(y0+y1)/2,dx=x1-x0,dy=y1-y0,len=Math.hypot(dx,dy);
    const cx=mx+dy*.16,cy=my-dx*.16;
    const tEnd=1-14/len,pts=[];
    for(let k=0;k<=24;k++){
      const u=tEnd*k/24,v=1-u;
      pts.push({x:v*v*x0+2*u*v*cx+u*u*x1,y:v*v*y0+2*u*v*cy+u*u*y1});
    }
    const p=pts[24],q=pts[23];
    arrows.push(p);
    arrowRot.push(Math.atan2(p.y-q.y,p.x-q.x)*180/Math.PI+90);
    arrowCol.push(cellColors[e[0]]);
    arrowRad.push(Math.min(6,3+e[2]*.15));
    lines.push({w:e[2],d:{data:pts,showLine:true,pointRadius:0,clip:false,borderColor:rgba(cellColors[e[0]],e[2]<2?.85:.6),borderWidth:e[2]}});
  });
  loops.forEach(L=>{
    const x0=nx[L[0]],y0=ny[L[0]],dx=L[1]-x0,dy=L[2]-y0,len=Math.hypot(dx,dy);
    const ux=dx/len,uy=dy/len,h=L[3]/.281,pts=[];
    const c1=[x0+ux*len/.75+uy*h,y0+uy*len/.75-ux*h],c2=[x0+ux*len/.75-uy*h,y0+uy*len/.75+ux*h];
    for(let k=0;k<=30;k++){
      const u=k/30,v=1-u;
      pts.push({x:(v*v*v+u*u*u)*x0+3*v*v*u*c1[0]+3*v*u*u*c2[0],y:(v*v*v+u*u*u)*y0+3*v*v*u*c1[1]+3*v*u*u*c2[1]});
    }
    lines.push({w:L[4],d:{data:pts,showLine:true,pointRadius:0,clip:false,tension:.2,borderColor:rgba(cellColors[L[0]],L[4]<2?.85:.6),borderWidth:L[4]}});
  });
  ds.push({data:arrows,pointStyle:'triangle',pointRotation:arrowRot,pointBackgroundColor:arrowCol,pointRadius:arrowRad,pointBorderWidth:0,clip:false});
  lines.sort((a,b)=>a.w-b.w).forEach(L=>ds.push(L.d));
  const hide=(a,z,rev)=>({type:'linear',min:a,max:z,display:false,reverse:!!rev});
  new Chart(c,{type:'scatter',data:{datasets:ds},options:{layout:{padding:0},scales:{x:hide(l,r),y:hide(t,b,true)}}});
  cellNames.forEach((n,i)=>txt(n,lx[i],ly[i],29.5));
}
network(0,1690,730,2240,nodeXD,nodeYD,labelXD,labelYD,edgesD,loopsD);
network(730,1690,1430,2250,nodeXE,nodeYE,labelXE,labelYE,edgesE,loopsE);
network(1430,1690,2128,2240,nodeXF,nodeYF,labelXF,labelYF,edgesF,loopsF);

// heatmaps
function heat(l,r,top,hb,st,sb,rows,hidden,o){
  const rowH=(hb-top)/4,yMax=4+(sb-hb)/rowH,sa=4+(st-hb)/rowH;
  const m={l:170,t:20+o.yPad,r:20,b:165};
  const c=plotCanvas(l,top,r,sb,m);
  const ds=rows.map((vals,ri)=>({data:vals.map(()=>[ri,ri+1]),backgroundColor:vals.map(v=>ramp(bugnStops,v)),barPercentage:1,categoryPercentage:1,grouped:false,borderWidth:0}));
  ds.push({data:cellNames.map((n,i)=>i===hidden?null:[sa,yMax]),backgroundColor:cellColors,barPercentage:1,categoryPercentage:1,grouped:false,borderWidth:0});
  const xs=axis('category',undefined,undefined,[],[],m.b,true,{size:o.xSize,rot:o.rot,pad:3,grid:false,border:false});
  delete xs.afterBuildTicks;delete xs.min;delete xs.max;
  xs.ticks.callback=function(v){return this.getLabelForValue(v);};
  new Chart(c,{type:'bar',data:{labels:cellNames,datasets:ds},options:{layout:{padding:{top:m.t,right:m.r}},scales:{
    x:xs,
    y:axis('linear',0,yMax,[.5,1.5,2.5,3.5],heatRoles,m.l,false,{size:o.ySize,reverse:true,pad:o.yPad,grid:false,border:false})
  }}});
  txt(o.title,o.tx,o.ty,o.tSize);
  box(o.bx0,o.by0,o.bx1-o.bx0,o.by1-o.by0,'linear-gradient(to top,'+bugnStops.join(',')+')');
  txt('1',o.lx,o.l1,28);
  txt('0',o.lx,o.l0,28);
  txt('Importance',o.ix,o.iy,25,{rot:-90});
}
heat(175,612,2297,2434,2440,2451,grnImportance,LO,{xSize:28,rot:45,ySize:30,yPad:14,title:'GRN signaling pathway network',tx:373,ty:2268,tSize:29,bx0:644,bx1:657,by0:2311,by1:2422,lx:669,l1:2311,l0:2412,ix:629,iy:2362});
heat(898,1323,2288,2421,2426,2437,mifImportance,-1,{xSize:29,rot:40,ySize:30,yPad:1,title:'MIF signaling pathway network',tx:1117,ty:2264,tSize:29,bx0:1354,bx1:1366,by0:2300,by1:2410,lx:1380,l1:2300,l0:2399,ix:1339,iy:2352});
heat(1575,2042,2281,2427,2433,2445,mkImportance,-1,{xSize:29,rot:40,ySize:30,yPad:1,title:'MK signaling pathway network',tx:1815,ty:2256,tSize:29,bx0:2069,bx1:2083,by0:2319,by1:2428,lx:2098,l1:2319,l0:2429,ix:2057,iy:2385});

// ---------- panel G ----------
function traj(l,t,r,b,xMin,xMax,yMin,yMax,colorOf,rad){
  const m={l:70,t:14,r:6,b:24};
  const c=plotCanvas(l,t,r,b,m);
  const pts=[],cols=[];
  cellGroups.forEach((g,gi)=>g.forEach(p=>{pts.push({x:p[0],y:p[1]});cols.push(colorOf(gi,p[2]));}));
  const ds=branchList.map((br,i)=>({data:br.map(p=>({x:p[0],y:p[1]})),showLine:true,pointRadius:0,borderColor:'#000',borderWidth:branchWidths[i],tension:.3,order:1}));
  ds.push({data:[{x:branchTrunk[0][0],y:branchTrunk[0][1]}],pointRadius:6,pointBackgroundColor:'#000',pointBorderWidth:0,order:0});
  ds.push({data:pts,pointRadius:rad,pointBackgroundColor:cols,pointBorderWidth:0,order:.5,clip:false});
  const yv=[-2.5,0,2.5,5];
  new Chart(c,{type:'scatter',data:{datasets:ds},options:{layout:{padding:{top:m.t,right:m.r}},scales:{
    x:axis('linear',xMin,xMax,[-5,0,5],['\u22125','0','5'],m.b,true,{size:20,pad:0,tick:3,bw:2,tickW:1.5}),
    y:axis('linear',yMin,yMax,yv,['\u22122.5','0.0','2.5','5.0'],m.l,false,{size:21,pad:1,tick:4,bw:2,tickW:1.5})
  }}});
}
traj(1039,819,1400,1145,-6,9.4,-5,6.2,(g)=>ramp(['#132B43','#56B1F7'],groupTimes[g]/21),6.5);
traj(1042,1268,1393,1590,-6.04,9.79,-4.95,6.15,(g,k)=>k?'#F8766D':'#00BFC4',5.5);
txt('Pseudotime',1226,784,29);
txt('Component 1',1198,1171,28);
txt('Component 2',988,973,28,{rot:-90});
box(1199,810,70,19,'linear-gradient(to right,#132B43,#56B1F7)');
[['0',1203],['5',1219],['10',1235],['15',1250],['20',1266]].forEach(L=>txt(L[0],L[1],839,15));
txt('CellTypes',1221,1208,30);
box(1103,1233,17,15,'#00BFC4',true);
box(1103,1261,17,15,'#F8766D',true);
txt('OC_cells_low GMPI',1126,1237,25,{align:'l'});
txt('OC_cells_high GMPI',1126,1268,25,{align:'l'});
txt('Component 1',1213,1625,28);
txt('Component 2',989,1416,28,{rot:-90});

// ---------- panel H ----------
function stateOf(x){
  for(const s of stateRanges) if(x>=s[0]&&x<s[1]) return s[2];
  return 6;
}
function bandSets(y,bands,w){
  const out=[];
  bands.forEach(b=>stateRanges.forEach(s=>{
    const a=Math.max(b[0],s[0]),z=Math.min(b[1],s[1]);
    if(z>a) out.push({data:[{x:a,y:y},{x:z,y:y}],showLine:true,pointRadius:0,borderColor:stateColors[s[2]],borderWidth:w,borderCapStyle:'round',clip:false,order:2});
  }));
  return out;
}
function geneTrend(title,titleX,titleY,y10,y01,rows,dots,curve,showX){
  const m={l:95,t:18,r:6,b:showX?40:18};
  const c=plotCanvas(1531,y10,2051,y01,m);
  const ds=[];
  ds.push({data:curve.map(p=>({x:p[0],y:p[1]})),showLine:true,pointRadius:0,borderColor:'#000',borderWidth:4,cubicInterpolationMode:'monotone',clip:false,order:0});
  ds.push({data:dots.map(p=>({x:p[0],y:p[1]})),pointRadius:4.8,pointBackgroundColor:dots.map(p=>stateColors[stateOf(p[0])]),pointBorderWidth:0,order:1,clip:false});
  rows.forEach(r=>bandSets(r[0],r[1],9).forEach(d=>ds.push(d)));
  bandSets(.1,baseBands,6).forEach(d=>ds.push(d));
  new Chart(c,{type:'scatter',data:{datasets:ds},options:{layout:{padding:{top:m.t,right:m.r,bottom:showX?0:m.b}},scales:{
    x:axis('linear',-1.06,22.4,timeTicks,timeTicks.map(String),showX?m.b:0,true,{size:26,pad:4,display:!!showX,tick:5,bw:2}),
    y:axis('logarithmic',.1,10,[.1,1,10],['0.1','1.0','10.0'],m.l,false,{size:26,pad:2,tick:6,bw:3})
  }}});
  txt(title,titleX,titleY,28);
}
geneTrend('ANKRD27',1800,799,824,872,rowsANKRD27,dotsANKRD27,curveANKRD27,false);
geneTrend('KIAA0100',1801,912,940,986,rowsKIAA0100,dotsKIAA0100,curveKIAA0100,false);
geneTrend('NUMBL',1798,1025,1051,1098,rowsNUMBL,dotsNUMBL,curveNUMBL,false);
geneTrend('OPA3',1796,1139,1166,1212,rowsOPA3,dotsOPA3,curveOPA3,false);
geneTrend('PDP1',1796,1252,1280,1326,rowsPDP1,dotsPDP1,curvePDP1,false);
geneTrend('SLC7A11',1799,1366,1395,1440,rowsSLC7A11,dotsSLC7A11,curveSLC7A11,false);
geneTrend('TRMT112',1800,1479,1513,1554,rowsTRMT112,dotsTRMT112,curveTRMT112,true);
txt('Relative Expression',1445,1194,28,{rot:-90});
txt('Pseudo\u2212time',1788,1611,28);
txt('State',2059,1018,28,{align:'l'});
[1070,1117,1164,1211,1258,1305,1352].forEach((y,i)=>{
  box(2077,y-4.5,10,9,stateColors[i],true);
  txt(String(i+1),2103,y,28,{align:'l'});
});

// ---------- panel letters ----------
[['(A)',27,44],['(B)',1364,40],['(C)',26,756],['(D)',27,1714],['(E)',797,1714],['(F)',1484,1714],['(G)',947,757],['(H)',1421,756]].forEach(L=>txt(L[0],L[1],L[2],38,{bold:true}));
</script>
</body>
</html>
